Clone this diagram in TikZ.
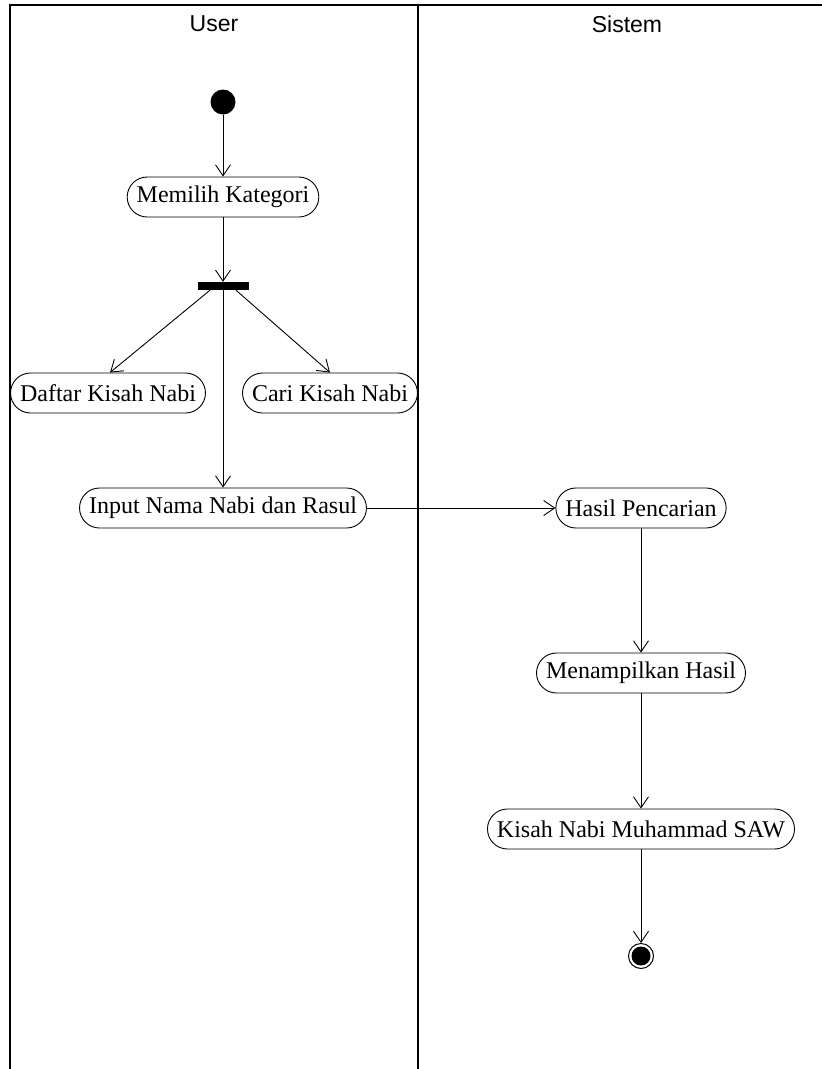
\documentclass[tikz,border=0pt]{standalone}
\usepackage{fontspec}
\setmainfont{Liberation Serif}
\newfontfamily\lanefont{Liberation Sans}
\usepackage{tikz}
\usetikzlibrary{arrows.meta}

\begin{document}
\begin{tikzpicture}[x=1pt,y=-1pt,font=\fontsize{24}{28}\selectfont,
    >={Straight Barb[length=11pt,width=15pt]}]
\tikzstyle{act}=[draw,rectangle,rounded corners=20pt,minimum height=40pt,inner xsep=9.5pt,inner ysep=0pt,line width=0.9pt]
\tikzstyle{start node}=[circle,fill=black,inner sep=0pt,minimum size=25pt]
\tikzstyle{end node}=[circle,draw,line width=1pt,inner sep=0pt,minimum size=25pt,
    path picture={\fill (path picture bounding box.center) circle (9.5pt);}]
\tikzstyle{bar}=[rectangle,fill=black,inner sep=0pt,minimum width=51pt,minimum height=8pt]
\tikzstyle{flow}=[->,line width=0.9pt]
\tikzstyle{lane}=[line width=1.5pt]

\useasboundingbox (0,0) rectangle (822,1069);

% swimlanes
\draw[lane] (10,1069) -- (10,5) -- (822,5);
\draw[lane] (418,5) -- (418,1069);
\node at (214,24) {\lanefont\fontsize{23}{26}\selectfont User};
\node at (627,24) {\lanefont\fontsize{23}{26}\selectfont Sistem};

% user lane
\node(0)[start node] at (223,102) {};
\node(kat)[act] at (223,197) {Memilih Kategori};
\node(fork)[bar] at (223,286) {};
\node(daftar)[act] at (108,393) {Daftar Kisah Nabi};
\node(cari)[act] at (330,393) {Cari Kisah Nabi};
\node(input)[act] at (223,508) {Input Nama Nabi dan Rasul};

% sistem lane
\node(hasil)[act] at (641,508) {Hasil Pencarian};
\node(tampil)[act] at (641,673) {Menampilkan Hasil};
\node(kisah)[act] at (641,829) {Kisah Nabi Muhammad SAW};
\node(1)[end node] at (641,956) {};

% flows
\draw[flow] (0) -- (kat);
\draw[flow] (kat) -- (fork);
\draw[flow] ([xshift=-13pt]fork.south) -- ([xshift=2pt]daftar.north);
\draw[flow] ([xshift=13pt]fork.south) -- (cari.north);
\draw[flow] (fork) -- (input);
\draw[flow] (input) -- (hasil);
\draw[flow] (hasil) -- (tampil);
\draw[flow] (tampil) -- (kisah);
\draw[flow] (kisah) -- (1);

\end{tikzpicture}
\end{document}
